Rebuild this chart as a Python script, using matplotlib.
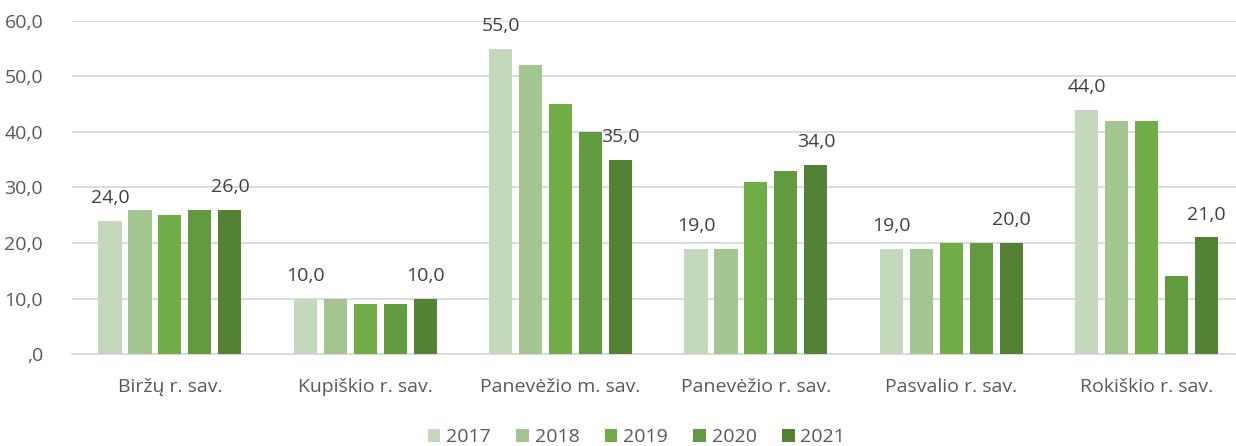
import matplotlib
matplotlib.use("Agg")
import matplotlib.pyplot as plt
import numpy as np

categories = ["Biržų r. sav.", "Kupiškio r. sav.", "Panevėžio m. sav.",
              "Panevėžio r. sav.", "Pasvalio r. sav.", "Rokiškio r. sav."]
years = ["2017", "2018", "2019", "2020", "2021"]
v2017 = [24, 10, 55, 19, 19, 44]
v2018 = [26, 10, 52, 19, 19, 42]
v2019 = [25, 9, 45, 31, 20, 42]
v2020 = [26, 9, 40, 33, 20, 14]
v2021 = [26, 10, 35, 34, 20, 21]
series = [v2017, v2018, v2019, v2020, v2021]
colors = ["#C4D8BB", "#A3C590", "#70AD47", "#629A3F", "#548235"]
labeled = {"2017", "2021"}
yticks = [0, 10, 20, 30, 40, 50, 60]

def fmt(v):
    s = f"{v:.1f}".replace(".", ",")
    return s[1:] if s.startswith("0,") else s

plt.rcParams['font.family'] = ['Open Sans', 'DejaVu Sans']
fig = plt.figure(figsize=(12.36, 4.46), dpi=100)
ax = fig.add_axes([72.3/1236, 1 - 354/446, 1172/1236, (354-21)/446])

FS = 14
x = np.arange(len(categories))
pitch = 0.1535
width = 0.118
for i, (yr, vals, c) in enumerate(zip(years, series, colors)):
    off = (i - 2) * pitch
    bars = ax.bar(x + off, vals, width, color=c, label=yr, zorder=3)
    if yr in labeled:
        for b, v in zip(bars, vals):
            ax.annotate(fmt(v), (b.get_x() + b.get_width()/2, v),
                        xytext=(0, 10), textcoords="offset points",
                        ha="center", va="bottom", fontsize=FS,
                        color="#404040", zorder=4)

ax.set_xlim(-0.5, len(categories) - 0.5)
ax.set_ylim(0, 60)
ax.set_yticks(yticks)
ax.set_yticklabels([fmt(v) for v in yticks])
ax.set_xticks(x)
ax.set_xticklabels(categories)
ax.grid(axis="y", color="#D9D9D9", linewidth=1.3, zorder=0)
for s in ["top", "right", "left"]:
    ax.spines[s].set_visible(False)
ax.spines["bottom"].set_color("#D9D9D9")
ax.spines["bottom"].set_linewidth(1.3)
ax.tick_params(axis="both", length=0, colors="#595959", labelsize=FS)
ax.tick_params(axis="x", pad=17)
ax.tick_params(axis="y", pad=21)

leg = fig.legend(loc="lower center", bbox_to_anchor=(0.515, -0.04), ncol=5,
                 frameon=False, fontsize=FS, handlelength=0.65,
                 handleheight=0.65, handletextpad=0.3, columnspacing=1.3)
for t in leg.get_texts():
    t.set_color("#595959")

fig.savefig("out.png", dpi=100)
